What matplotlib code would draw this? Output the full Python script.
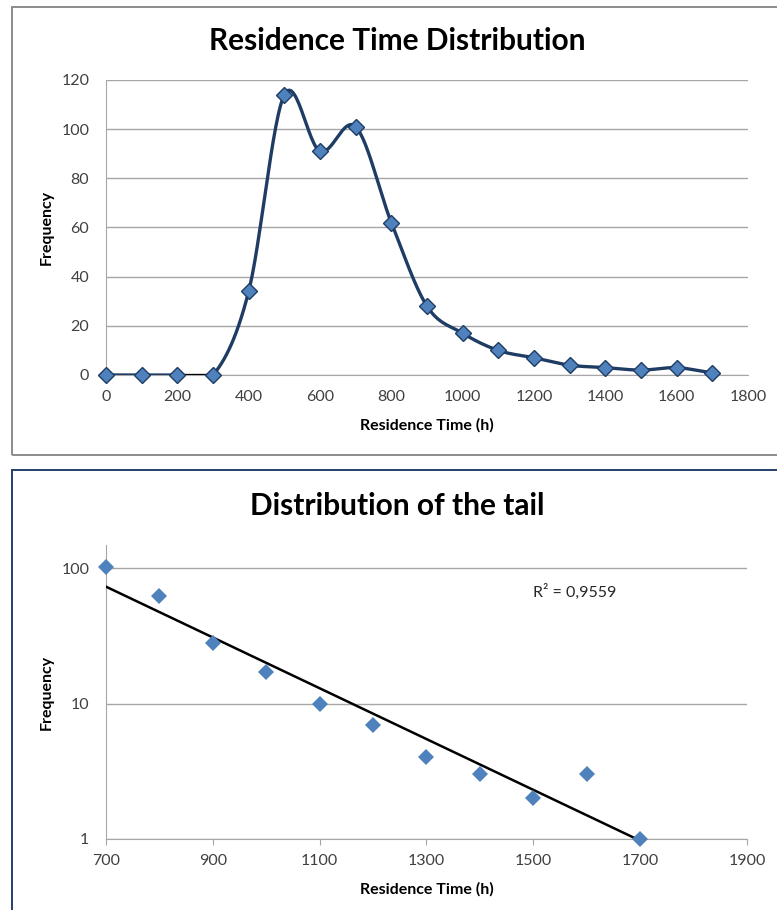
"""
Residence time distribution + log-scale fit of the tail (Excel-style look)
"""

import numpy as np
import matplotlib
matplotlib.use('Agg')
import matplotlib.pyplot as plt
from matplotlib.patches import Rectangle

plt.rcParams['font.family'] = ['Lato', 'DejaVu Sans']

# data
times = [0, 100, 200, 300, 400, 500, 600, 700, 800, 900,
         1000, 1100, 1200, 1300, 1400, 1500, 1600, 1700]
freq = [0, 0, 0, 0, 34, 114, 91, 101, 62, 28,
        17, 10, 7, 4, 3, 2, 3, 1]

tail_times = [700, 800, 900, 1000, 1100, 1200, 1300, 1400, 1500, 1600, 1700]
tail_freq = [101, 62, 28, 17, 10, 7, 4, 3, 2, 3, 1]

top_yticks = [0, 20, 40, 60, 80, 100, 120]
top_xticks = [0, 200, 400, 600, 800, 1000, 1200, 1400, 1600, 1800]
tail_xticks = [700, 900, 1100, 1300, 1500, 1700, 1900]
tail_yticks = [1, 10, 100]
tail_yticklabels = ['1', '10', '100']
r2_text = 'R² = 0,9559'

LINE = '#1F3D64'
FILL = '#4F81BD'
GRID = '#A6A6A6'
TICKC = '#404040'
TICKFS = 11.5
LABFS = 11.5
TITLEFS = 21.5


def smooth(xs, ys, n=30):
    """Catmull-Rom style curve through the points, like Excel's smoothed line"""
    xs = np.asarray(xs, float)
    ys = np.asarray(ys, float)
    px = np.concatenate([[2 * xs[0] - xs[1]], xs, [2 * xs[-1] - xs[-2]]])
    py = np.concatenate([[ys[0]], ys, [ys[-1]]])
    outx, outy = [], []
    t = np.linspace(0, 1, n)
    for i in range(1, len(px) - 2):
        p0, p1, p2, p3 = px[i - 1], px[i], px[i + 1], px[i + 2]
        q0, q1, q2, q3 = py[i - 1], py[i], py[i + 1], py[i + 2]
        # bezier control points
        c1x, c1y = p1 + (p2 - p0) / 6, q1 + (q2 - q0) / 6
        c2x, c2y = p2 - (p3 - p1) / 6, q2 - (q3 - q1) / 6
        bx = (1 - t)**3 * p1 + 3 * (1 - t)**2 * t * c1x + 3 * (1 - t) * t**2 * c2x + t**3 * p2
        by = (1 - t)**3 * q1 + 3 * (1 - t)**2 * t * c1y + 3 * (1 - t) * t**2 * c2y + t**3 * q2
        outx.extend(bx)
        outy.extend(by)
    return np.array(outx), np.array(outy)


fig = plt.figure(figsize=(7.77, 9.1), dpi=100)

# chart borders
fig.patches.append(Rectangle((12 / 777, 1 - 455 / 910), 0.99, 448 / 910,
                             transform=fig.transFigure, fill=False,
                             edgecolor='#8C8C8C', linewidth=1.4))
fig.patches.append(Rectangle((12 / 777, -0.05), 0.99, 0.05 + (910 - 470) / 910,
                             transform=fig.transFigure, fill=False,
                             edgecolor='#24406A', linewidth=1.4))

# ---------------- top chart ----------------
ax1 = fig.add_axes([106 / 777, 1 - 375 / 910, 642 / 777, 295 / 910])
sx, sy = smooth(times, freq)
ax1.plot(sx, sy, color=LINE, linewidth=2.4, zorder=3, solid_capstyle='round')
# the 200-300 segment is drawn in black in the original
ax1.plot(times[2:4], freq[2:4], color='black', linewidth=2.4, zorder=3)
ax1.plot(times, freq, linestyle='none', marker='D', markersize=8.5,
         markerfacecolor=FILL, markeredgecolor=LINE, markeredgewidth=1.0,
         zorder=4, clip_on=False)
ax1.set_xlim(0, 1800)
ax1.set_ylim(0, 120)
ax1.set_xticks(top_xticks)
ax1.set_yticks(top_yticks)
ax1.grid(axis='y', color=GRID, linewidth=1.0)
ax1.set_axisbelow(True)
for s in ['top', 'right']:
    ax1.spines[s].set_visible(False)
for s in ['left', 'bottom']:
    ax1.spines[s].set_color(GRID)
ax1.tick_params(length=0, labelsize=TICKFS, labelcolor=TICKC)
ax1.tick_params(axis='x', pad=11)
ax1.tick_params(axis='y', pad=12)
ax1.set_xlabel('Residence Time (h)', fontsize=LABFS, fontweight='bold')
ax1.set_ylabel('Frequency', fontsize=LABFS, fontweight='bold')
ax1.xaxis.set_label_coords(0.5, -0.145)
ax1.yaxis.set_label_coords(-0.082, 0.5)
fig.text(397 / 777, 1 - 41 / 910, 'Residence Time Distribution',
         ha='center', va='center', fontsize=TITLEFS, fontweight='bold')

# ---------------- bottom chart ----------------
ax2 = fig.add_axes([106 / 777, 1 - 839 / 910, 641 / 777, 294 / 910])
ax2.set_yscale('log')
tx = np.array(tail_times, float)
b, a = np.polyfit(tx, np.log(tail_freq), 1)
fx = np.array([tx[0], tx[-1]])
ax2.plot(fx, np.exp(a + b * fx), color='black', linewidth=1.8, zorder=3)
ax2.plot(tail_times, tail_freq, linestyle='none', marker='D', markersize=8.5,
         color=FILL, markeredgewidth=0, zorder=4, clip_on=False)
ax2.set_xlim(700, 1900)
ax2.set_ylim(1, 148)
ax2.set_xticks(tail_xticks)
ax2.set_yticks(tail_yticks)
ax2.set_yticklabels(tail_yticklabels)
ax2.yaxis.set_minor_locator(matplotlib.ticker.NullLocator())
ax2.grid(axis='y', which='major', color=GRID, linewidth=1.0)
ax2.set_axisbelow(True)
for s in ['top', 'right']:
    ax2.spines[s].set_visible(False)
for s in ['left', 'bottom']:
    ax2.spines[s].set_color(GRID)
ax2.tick_params(axis='x', length=4, color=GRID, direction='out', pad=7)
ax2.tick_params(axis='y', length=0, pad=12)
ax2.tick_params(labelsize=TICKFS, labelcolor=TICKC)
ax2.set_xlabel('Residence Time (h)', fontsize=LABFS, fontweight='bold')
ax2.set_ylabel('Frequency', fontsize=LABFS, fontweight='bold')
ax2.xaxis.set_label_coords(0.5, -0.145)
ax2.yaxis.set_label_coords(-0.082, 0.5)
ax2.text(533 / 777, 1 - 592 / 910, r2_text, transform=fig.transFigure,
         ha='left', va='center', fontsize=TICKFS, color='#262626')
fig.text(397 / 777, 1 - 506 / 910, 'Distribution of the tail',
         ha='center', va='center', fontsize=TITLEFS, fontweight='bold')

fig.savefig('out.png', dpi=100)
